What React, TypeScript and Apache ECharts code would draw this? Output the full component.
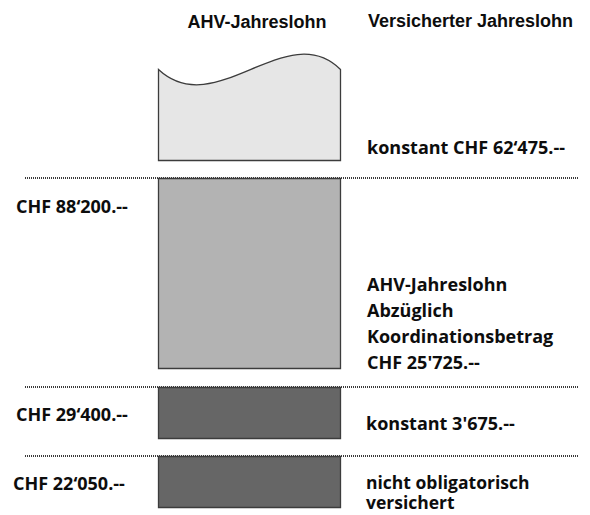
import React, { useEffect, useRef } from "react";
import * as echarts from "echarts";

// ---- data ----
const headers = ["AHV-Jahreslohn", "Versicherter Jahreslohn"];
const segmentNames = ["nicht obligatorisch", "Koordinationsabzug", "versicherter Lohn", "über Maximum"];
const segmentFrom = [0, 13.8, 27.8, 69.4];
const segmentTo = [10.2, 24.0, 65.8, 87.6];
const segmentWavyTop = [0, 0, 0, 1];
const thresholdLevels = [10.2, 24.0, 65.8];
const thresholdLabels = ["CHF 22‘050.--", "CHF 29‘400.--", "CHF 88‘200.--"];
const rightLabels = [
  "nicht obligatorisch\nversichert",
  "konstant 3'675.--",
  "AHV-Jahreslohn\nAbzüglich\nKoordinationsbetrag\nCHF 25'725.--",
  "konstant CHF 62‘475.--",
];

// ---- styles / layout ----
const segmentColors = ["#666666", "#666666", "#b3b3b3", "#e6e6e6"];
const BAR_LEFT = 24.05;
const BAR_RIGHT = 57.0;
const LABEL_FONT = "bold 18px 'Open Sans', Lato, sans-serif";
const SMALL_LABEL_FONT = "bold 17.5px 'Open Sans', Lato, sans-serif";
const HEADER_FONT = "bold 18px 'Liberation Sans', Arial, sans-serif";

export default function App() {
  const ref = useRef<HTMLDivElement>(null);

  useEffect(() => {
    if (!ref.current) return;
    const chart = echarts.init(ref.current, null, { renderer: "svg" });

    const data = segmentNames.map((name, i) => ({
      name,
      value: [BAR_LEFT, segmentFrom[i], segmentTo[i], segmentWavyTop[i]],
    }));

    const textEl = (text: string, x: number, y: number, opts: any = {}) => ({
      type: "text",
      x,
      y,
      silent: true,
      style: {
        text,
        font: opts.font || LABEL_FONT,
        fill: "#0d0d0d",
        align: opts.align || "left",
        textAlign: opts.align || "left",
        verticalAlign: opts.va || "middle",
        textVerticalAlign: opts.va || "middle",
        lineHeight: opts.lineHeight,
      },
    });

    const leftLabelPos = [
      [13, 483],
      [16, 414],
      [16, 206],
    ];
    const rightLabelPos = [
      { x: 366, y: 472, lh: 20, font: SMALL_LABEL_FONT },
      { x: 366, y: 423, lh: 0 },
      { x: 367, y: 271, lh: 26 },
      { x: 367, y: 147, lh: 0 },
    ];

    const graphics: any[] = [
      textEl(headers[0], 257, 22, { font: HEADER_FONT, align: "center" }),
      textEl(headers[1], 368, 21, { font: HEADER_FONT }),
    ];
    thresholdLabels.forEach((t, i) => {
      graphics.push(textEl(t, leftLabelPos[i][0], leftLabelPos[i][1]));
    });
    rightLabels.forEach((t, i) => {
      const p: any = rightLabelPos[i];
      if (p.lh) graphics.push(textEl(t, p.x, p.y, { va: "top", lineHeight: p.lh, font: p.font }));
      else graphics.push(textEl(t, p.x, p.y));
    });

    chart.setOption({
      animation: false,
      grid: { left: 25, right: 12, top: 7, bottom: 8 },
      xAxis: { type: "value", min: 0, max: 100, show: false },
      yAxis: { type: "value", min: 0, max: 100, show: false },
      series: [
        {
          type: "line",
          data: [],
          silent: true,
          markLine: {
            symbol: "none",
            silent: true,
            label: { show: false },
            lineStyle: { type: [1, 1], width: 2, color: "#3a3a3a" },
            data: thresholdLevels.map((v) => ({ yAxis: v })),
          },
        },
        {
          type: "custom",
          silent: true,
          encode: { x: 0, y: [1, 2] },
          data,
          renderItem: (params: any, api: any) => {
            const i = params.dataIndex;
            const pB = api.coord([BAR_LEFT, api.value(1)]);
            const pT = api.coord([BAR_RIGHT, api.value(2)]);
            const x0 = Math.round(pB[0]) + 0.5;
            const x1 = Math.round(pT[0]) + 0.5;
            const yB = Math.round(pB[1]) + 0.5;
            const yT = Math.round(pT[1]) + 0.5;
            const style = {
              fill: segmentColors[i],
              stroke: "#3c3c3c",
              lineWidth: 1.3,
            };
            if (api.value(3) === 1) {
              const w = x1 - x0;
              const d =
                `M${x0} ${yB} L${x0} ${yT} ` +
                `C${x0 + 0.313 * w} ${yT + 53} ${x0 + 0.703 * w} ${yT - 53} ${x1} ${yT} ` +
                `L${x1} ${yB} Z`;
              return { type: "path", shape: { pathData: d }, style };
            }
            return {
              type: "rect",
              shape: { x: x0, y: yT, width: x1 - x0, height: yB - yT },
              style,
            };
          },
          z: 3,
        },
      ],
      graphic: graphics,
    });

    return () => chart.dispose();
  }, []);

  return (
    <div
      ref={ref}
      style={{ position: "fixed", left: 0, top: 0, width: 590, height: 515, background: "#ffffff" }}
    />
  );
}
